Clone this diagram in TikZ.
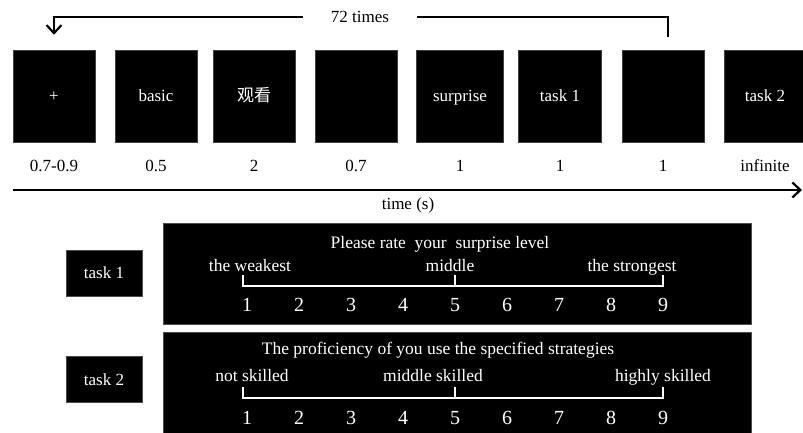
\documentclass[tikz,border=0pt]{standalone}
\usepackage{fontspec}
\setmainfont{Liberation Serif}
\newfontfamily\cjk{Noto Sans CJK SC}
\usetikzlibrary{arrows.meta}
\tikzset{
  screen/.style={fill=black,draw=black!75,line width=0.6pt,minimum width=82pt,minimum height=92pt,inner sep=0pt,text=white,text height=13pt,text depth=1pt,font=\fontsize{17}{20}\selectfont},
  durlabel/.style={inner sep=0pt,font=\fontsize{17}{20}\selectfont},
  panel/.style={fill=black,draw=black!70,line width=0.8pt,minimum width=588pt,minimum height=101pt,inner sep=0pt},
  tasktag/.style={fill=black,draw=black!70,line width=0.6pt,minimum width=76pt,minimum height=46pt,inner sep=0pt,text=white,font=\fontsize{17}{20}\selectfont},
  paneltext/.style={inner sep=0pt,text=white,text height=12pt,text depth=4pt,font=\fontsize{17.5}{20}\selectfont},
  scalenum/.style={inner sep=0pt,text=white,font=\fontsize{20}{24}\selectfont},
  bracket/.style={draw=white,line width=2pt},
  barb/.style={-{Straight Barb[length=8pt,width=15pt,line width=2.2pt]}}
}
\begin{document}
\begin{tikzpicture}[x=1pt,y=-1pt]
\path[use as bounding box,fill=white] (0,0) rectangle (803,433);
% trial sequence
\node[screen] (s1) at (54,96) {+};
\node[screen] (s2) at (156,96) {basic};
\node[screen] (s3) at (254,96) {\cjk 观看};
\node[screen] (s4) at (356,96) {};
\node[screen,minimum width=87pt] (s5) at (460,96) {surprise};
\node[screen,minimum width=83pt] (s6) at (560,96) {task 1};
\node[screen] (s7) at (663,96) {};
\node[screen] (s8) at (765,96) {task 2};
\node[durlabel] (d1) at (54,166) {0.7-0.9};
\node[durlabel] (d2) at (156,166) {0.5};
\node[durlabel] (d3) at (254,166) {2};
\node[durlabel] (d4) at (356,166) {0.7};
\node[durlabel] (d5) at (460,166) {1};
\node[durlabel] (d6) at (560,166) {1};
\node[durlabel] (d7) at (663,166) {1};
\node[durlabel] (d8) at (765,166) {infinite};
% repetition loop
\node[durlabel] (reps) at (360,17) {72 times};
\draw[line width=2pt] ([xshift=5pt,yshift=13pt]s7.north) |- ([xshift=28pt]reps.east);
\draw[line width=2pt,barb] ([xshift=-28pt]reps.west) -| ([yshift=15pt]s1.north);
% time axis
\coordinate (t0) at (13,190);
\coordinate (t1) at (802,190);
\draw[line width=2pt,barb] (t0) -- (t1);
\node[durlabel] (taxis) at (408,205) {time (s)};
% rating screens
\node[tasktag] (tag1) at (104,273) {task 1};
\node[tasktag] (tag2) at (104,379.5) {task 2};
\node[panel] (p1) at (457,273.5) {};
\node[panel] (p2) at (457,383) {};
\node[paneltext] (q1) at (440,244) {Please rate\ \ your\ \ surprise level};
\node[paneltext] (lo1) at (250,267) {the weakest};
\node[paneltext] (mid1) at (450,267) {middle};
\node[paneltext] (hi1) at (632,267) {the strongest};
\node[paneltext] (q2) at (438,350) {The proficiency of you use the specified strategies};
\node[paneltext] (lo2) at (252,377) {not skilled};
\node[paneltext] (mid2) at (433,377) {middle skilled};
\node[paneltext] (hi2) at (663,377) {highly skilled};
\foreach \i in {1,...,9} {
  \node[scalenum] (a\i) at ({247+52*(\i-1)},305) {\i};
  \node[scalenum] (b\i) at ({247+52*(\i-1)},418) {\i};
}
\draw[bracket] ([xshift=-4pt,yshift=30pt]a1.center) |- ([yshift=19pt]a9.center) -- ([yshift=30pt]a9.center);
\draw[bracket] ([yshift=19pt]a5.center) -- ([yshift=30pt]a5.center);
\draw[bracket] ([xshift=-4pt,yshift=31pt]b1.center) |- ([yshift=20pt]b9.center) -- ([yshift=31pt]b9.center);
\draw[bracket] ([yshift=20pt]b5.center) -- ([yshift=31pt]b5.center);
\end{tikzpicture}
\end{document}
